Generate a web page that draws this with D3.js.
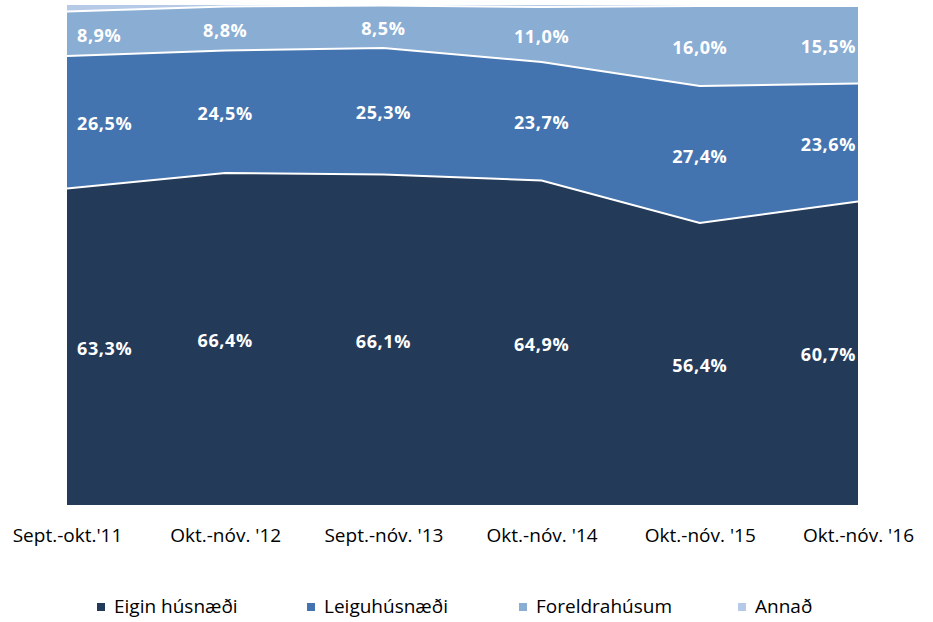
<!DOCTYPE html>
<html>
<head>
<meta charset="utf-8">
<script src="https://cdn.jsdelivr.net/npm/d3@7"></script>
<style>
  body { margin: 0; background: #fff; }
  text { font-family: "Liberation Sans Narrow", "Open Sans", sans-serif; }
</style>
</head>
<body>
<div class="chart"></div>
<script>
var width = 933,
    height = 622;

var margin = {top: 5, left: 67, right: 75, bottom: 117};

// categories and series (percent)
var categories = ["Sept.-okt.'11", "Okt.-nóv. '12", "Sept.-nóv. '13", "Okt.-nóv. '14", "Okt.-nóv. '15", "Okt.-nóv. '16"];
var seriesNames = ["Eigin húsnæði", "Leiguhúsnæði", "Foreldrahúsum", "Annað"];
var eigin     = [63.3, 66.4, 66.1, 64.9, 56.4, 60.7];
var leigu     = [26.5, 24.5, 25.3, 23.7, 27.4, 23.6];
var foreldra  = [8.9, 8.8, 8.5, 11.0, 16.0, 15.5];
var annad     = [1.3, 0.3, 0.1, 0.4, 0.2, 0.2];
var colors    = ["#243a59", "#4474af", "#8aadd4", "#b6cae7"];

var rows = categories.map(function(c, i) {
    return {cat: c, s0: eigin[i], s1: leigu[i], s2: foreldra[i], s3: annad[i]};
});

var keys = ["s0", "s1", "s2", "s3"];
var stack = d3.stack().keys(keys).offset(d3.stackOffsetExpand);
var layers = stack(rows);

var x = d3.scalePoint()
    .domain(categories)
    .range([margin.left, width - margin.right]);

var y = d3.scaleLinear()
    .domain([0, 1])
    .range([height - margin.bottom, margin.top]);

var svg = d3.select(".chart").append("svg")
    .attr("width", width)
    .attr("height", height);

var area = d3.area()
    .x(function(d) { return x(d.data.cat); })
    .y0(function(d) { return y(d[0]); })
    .y1(function(d) { return y(d[1]); });

svg.selectAll("path.layer")
    .data(layers)
    .enter().append("path")
    .attr("class", "layer")
    .attr("d", area)
    .style("fill", function(d, i) { return colors[i]; });

// white separator lines on top of each band
var topLine = d3.line()
    .x(function(d) { return x(d.data.cat); })
    .y(function(d) { return y(d[1]); });

svg.selectAll("path.sep")
    .data(layers.slice(0, 3))
    .enter().append("path")
    .attr("class", "sep")
    .attr("d", topLine)
    .style("fill", "none")
    .style("stroke", "#fff")
    .style("stroke-width", 2);

// data labels (no labels for Annað)
var n = categories.length;
layers.slice(0, 3).forEach(function(layer, li) {
    svg.selectAll("text.lbl" + li)
        .data(layer)
        .enter().append("text")
        .attr("class", "lbl" + li)
        .attr("x", function(d, i) {
            if (i === 0) return x(d.data.cat) + 10;
            if (i === n - 1) return x(d.data.cat) - 2;
            return x(d.data.cat);
        })
        .attr("y", function(d) { return (y(d[0]) + y(d[1])) / 2 + 8; })
        .attr("text-anchor", function(d, i) {
            if (i === 0) return "start";
            if (i === n - 1) return "end";
            return "middle";
        })
        .style("font-family", "'Open Sans', sans-serif")
        .style("font-weight", "bold")
        .style("font-size", "18px")
        .style("letter-spacing", "0.6px")
        .style("fill", "#fff")
        .text(function(d) {
            var v = [eigin, leigu, foreldra][li][layer.indexOf(d)];
            return v.toFixed(1).replace(".", ",") + "%";
        });
});

// x axis labels
var xAxis = d3.axisBottom(x).tickSize(0).tickPadding(24);
var gx = svg.append("g")
    .attr("transform", "translate(0," + (height - margin.bottom) + ")")
    .call(xAxis);
gx.select(".domain").remove();
gx.selectAll("text")
    .style("font-size", "19px")
    .style("fill", "#000");

// legend
var legendX = [97, 307, 519, 738];
var legend = svg.selectAll("g.legend")
    .data(seriesNames)
    .enter().append("g")
    .attr("class", "legend")
    .attr("transform", function(d, i) { return "translate(" + legendX[i] + ",603)"; });

legend.append("rect")
    .attr("width", 8)
    .attr("height", 8)
    .style("fill", function(d, i) { return colors[i]; });

legend.append("text")
    .attr("x", 17)
    .attr("y", 10)
    .style("font-size", "19px")
    .style("fill", "#000")
    .text(function(d) { return d; });
</script>
</body>
</html>
